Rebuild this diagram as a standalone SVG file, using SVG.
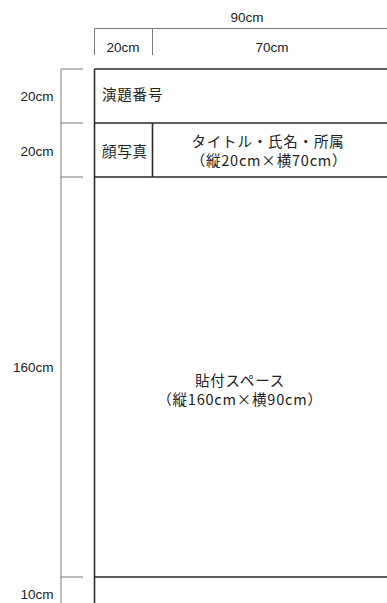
<svg xmlns="http://www.w3.org/2000/svg" width="387" height="603" viewBox="0 0 387 603">
<style>
.dim{stroke:#7a7a7a;stroke-width:1;fill:none}
.box{stroke:#2a2a2a;stroke-width:1.6;fill:none}
.lt{font-family:"Liberation Sans",Arial,sans-serif;font-size:13.5px;fill:#222}
.jp{font-family:"Noto Sans CJK JP","Noto Sans CJK SC",sans-serif;font-size:14.5px;fill:#222;letter-spacing:0.8px}
</style>
<rect width="387" height="603" fill="#fff"/>
<g id="connectors">
<path class="dim" d="M94.5 28.5H387M94.5 28.5V55M152.5 28.5V55"/>
<path class="dim" d="M61 69V603M61 69H83M61 123H83M61 177H83M61 577H83"/>
</g>
<g id="dimension-labels">
<text class="lt" x="247" y="22" text-anchor="middle">90cm</text>
<text class="lt" x="123" y="52" text-anchor="middle">20cm</text>
<text class="lt" x="272" y="52" text-anchor="middle">70cm</text>
<text class="lt" x="53.5" y="101" text-anchor="end">20cm</text>
<text class="lt" x="53.5" y="156" text-anchor="end">20cm</text>
<text class="lt" x="53.5" y="372" text-anchor="end">160cm</text>
<text class="lt" x="53.5" y="599" text-anchor="end">10cm</text>
</g>
<g id="frame">
<path class="box" d="M94.5 69H387M94.5 69V603M94.5 123H387M94.5 177H387M94.5 577H387"/>
</g>
<g id="node-number">
<text class="jp" x="102" y="100">演題番号</text>
</g>
<g id="node-photo">
<path class="box" d="M152.5 123V177"/>
<text class="jp" x="102" y="157">顔写真</text>
</g>
<g id="node-title">
<text class="jp" x="268" y="146.5" text-anchor="middle">タイトル・氏名・所属</text>
<text class="jp" x="269" y="165.5" text-anchor="middle" letter-spacing="0">（縦20cm×横70cm）</text>
</g>
<g id="node-space">
<text class="jp" x="240" y="386" text-anchor="middle">貼付スペース</text>
<text class="jp" x="240" y="405" text-anchor="middle" letter-spacing="0">（縦160cm×横90cm）</text>
</g>
</svg>
